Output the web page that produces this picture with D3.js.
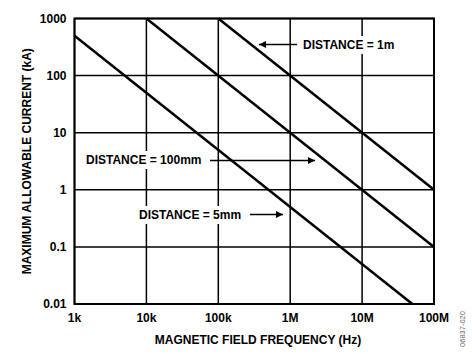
<!DOCTYPE html>
<html>
<head>
<meta charset="utf-8">
<script src="https://cdn.jsdelivr.net/npm/d3@7"></script>
<style>
  body { margin: 0; background: #fff; }
  text { font-family: "Liberation Sans", Arial, sans-serif; font-weight: bold; fill: #000; }
</style>
</head>
<body>
<svg id="chart"></svg>
<script>
// data
var freq_ticks = [1e3, 1e4, 1e5, 1e6, 1e7, 1e8];
var freq_labels = ["1k", "10k", "100k", "1M", "10M", "100M"];
var current_ticks = [0.01, 0.1, 1, 10, 100, 1000];
var current_labels = ["0.01", "0.1", "1", "10", "100", "1000"];
// each line: [frequency Hz, current kA] end points
var line_5mm = [[1e3, 500], [5e7, 0.01]];
var line_100mm = [[1e4, 1000], [1e8, 0.1]];
var line_1m = [[1e5, 1000], [1e8, 1]];
var series = [line_5mm, line_100mm, line_1m];

var width = 472, height = 354;
var margin = {left: 74.5, top: 18.5, right: 38, bottom: 50};
var fs = "12px";

var svg = d3.select("#chart").attr("width", width).attr("height", height);

var x = d3.scaleLog().domain([1e3, 1e8]).range([margin.left, width - margin.right]);
var y = d3.scaleLog().domain([0.01, 1000]).range([height - margin.bottom, margin.top]);

svg.append("defs").append("marker")
    .attr("id", "arrow")
    .attr("viewBox", "0 0 10 10")
    .attr("refX", 10).attr("refY", 5)
    .attr("markerWidth", 13).attr("markerHeight", 7)
    .attr("markerUnits", "userSpaceOnUse")
    .attr("orient", "auto")
    .append("path").attr("d", "M0,0 L10,5 L0,10 z").attr("fill", "#000");

// grid
svg.selectAll(".vgrid").data(freq_ticks).enter().append("line")
    .attr("x1", function(d){ return x(d); }).attr("x2", function(d){ return x(d); })
    .attr("y1", y(0.01)).attr("y2", y(1000))
    .attr("stroke", "#000").attr("stroke-width", 1.5);
svg.selectAll(".hgrid").data(current_ticks).enter().append("line")
    .attr("y1", function(d){ return y(d); }).attr("y2", function(d){ return y(d); })
    .attr("x1", x(1e3)).attr("x2", x(1e8))
    .attr("stroke", "#000").attr("stroke-width", 1.5);
svg.append("rect")
    .attr("x", x(1e3)).attr("y", y(1000))
    .attr("width", x(1e8) - x(1e3)).attr("height", y(0.01) - y(1000))
    .attr("fill", "none").attr("stroke", "#000").attr("stroke-width", 2);

// tick labels
svg.selectAll(".xlab").data(freq_ticks).enter().append("text")
    .attr("x", function(d){ return x(d); })
    .attr("y", y(0.01) + 18)
    .attr("text-anchor", "middle")
    .style("font-size", fs)
    .text(function(d, i){ return freq_labels[i]; });
svg.selectAll(".ylab").data(current_ticks).enter().append("text")
    .attr("x", x(1e3) - 8)
    .attr("y", function(d){ return y(d) + 4; })
    .attr("text-anchor", "end")
    .style("font-size", fs)
    .text(function(d, i){ return current_labels[i]; });

// lines
var line = d3.line().x(function(d){ return x(d[0]); }).y(function(d){ return y(d[1]); });
svg.selectAll(".series").data(series).enter().append("path")
    .attr("d", line)
    .attr("fill", "none").attr("stroke", "#000").attr("stroke-width", 2.5);

// annotations (white box behind text hides the grid)
function note(txt, tx, ty, ax1, ax2, ay){
    var bg = svg.append("rect").attr("fill", "#fff");
    var t = svg.append("text").attr("x", tx).attr("y", ty).style("font-size", fs).text(txt);
    var b = t.node().getBBox();
    bg.attr("x", b.x - 3).attr("y", b.y - 2).attr("width", b.width + 6).attr("height", b.height + 4);
    svg.append("line").attr("x1", ax1).attr("x2", ax2).attr("y1", ay).attr("y2", ay)
        .attr("stroke", "#000").attr("stroke-width", 1.3).attr("marker-end", "url(#arrow)");
}
note("DISTANCE = 1m", 303, 49, 297, 259, 44.5);
note("DISTANCE = 100mm", 86, 164, 210, 315, 160.5);
note("DISTANCE = 5mm", 139, 219, 250, 283, 214.5);

// axis titles
svg.append("text")
    .attr("x", 258).attr("y", 344)
    .attr("text-anchor", "middle").style("font-size", fs)
    .text("MAGNETIC FIELD FREQUENCY (Hz)");
svg.append("text")
    .attr("transform", "translate(31," + ((y(0.01) + y(1000)) / 2) + ") rotate(-90)")
    .attr("text-anchor", "middle").style("font-size", fs)
    .text("MAXIMUM ALLOWABLE CURRENT (kA)");
svg.append("text")
    .attr("transform", "translate(465,329) rotate(-90)")
    .attr("text-anchor", "middle")
    .style("font-size", "7.5px").style("font-weight", "normal").style("fill", "#666")
    .text("06837-020");
</script>
</body>
</html>
